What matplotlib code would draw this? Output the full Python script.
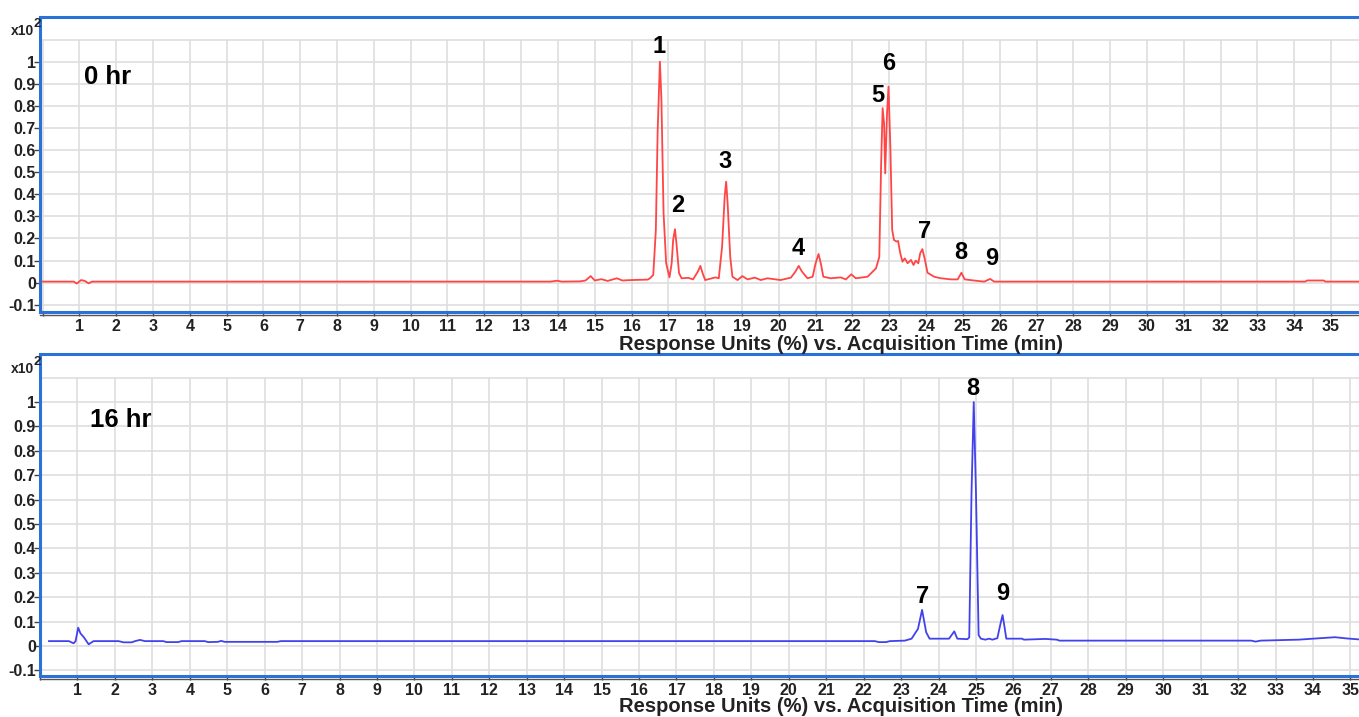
import matplotlib
matplotlib.use("Agg")
import matplotlib.pyplot as plt
from matplotlib.lines import Line2D
import numpy as np

plt.rcParams['font.family'] = ['Liberation Sans', 'DejaVu Sans']

# ---------------- data ----------------
t_0hr = [0.0, 0.85, 0.93, 1.05, 1.15, 1.25, 1.35, 13.8, 13.98, 14.1, 14.6, 14.75, 14.89, 15.0,
         15.18, 15.35, 15.6, 15.75, 16.0, 16.44, 16.5, 16.59, 16.66, 16.71, 16.77, 16.81, 16.87,
         16.94, 17.03, 17.09, 17.13, 17.18, 17.22, 17.29, 17.36, 17.54, 17.67, 17.8, 17.87,
         17.93, 18.0, 18.28, 18.37, 18.46, 18.53, 18.57, 18.61, 18.68, 18.74, 18.88, 19.01,
         19.15, 19.35, 19.51, 19.69, 20.05, 20.33, 20.45, 20.54, 20.63, 20.78, 20.92, 21.0,
         21.08, 21.14, 21.21, 21.41, 21.68, 21.82, 21.97, 22.09, 22.41, 22.64, 22.73, 22.78,
         22.82, 22.86, 22.89, 22.94, 22.98, 23.03, 23.08, 23.13, 23.2, 23.24, 23.3, 23.36,
         23.42, 23.5, 23.59, 23.66, 23.72, 23.79, 23.84, 23.9, 23.97, 24.04, 24.22, 24.4,
         24.68, 24.86, 24.96, 25.05, 25.4, 25.58, 25.74, 25.85, 34.3, 34.35, 34.8, 34.85, 35.8]
v_0hr = [0.005, 0.005, -0.004, 0.012, 0.008, -0.003, 0.005, 0.005, 0.009, 0.005, 0.006, 0.01,
         0.03, 0.01, 0.016, 0.008, 0.02, 0.01, 0.012, 0.014, 0.02, 0.035, 0.238, 0.69, 1.0, 0.84,
         0.314, 0.088, 0.024, 0.088, 0.193, 0.242, 0.178, 0.043, 0.02, 0.022, 0.015, 0.05, 0.076,
         0.043, 0.012, 0.024, 0.02, 0.163, 0.39, 0.457, 0.36, 0.118, 0.027, 0.012, 0.03,
         0.015, 0.023, 0.012, 0.02, 0.012, 0.023, 0.05, 0.076, 0.05, 0.02, 0.027, 0.088,
         0.13, 0.088, 0.027, 0.02, 0.024, 0.015, 0.038, 0.02, 0.027, 0.065, 0.117, 0.54,
         0.79, 0.72, 0.495, 0.767, 0.887, 0.615, 0.238, 0.193, 0.186, 0.189, 0.133, 0.095,
         0.11, 0.088, 0.103, 0.08, 0.1, 0.088, 0.133, 0.152, 0.103, 0.045, 0.027, 0.02,
         0.015, 0.015, 0.045, 0.015, 0.008, 0.005, 0.017, 0.005, 0.005, 0.01, 0.01, 0.005, 0.005]

t_16hr = [0.24, 0.77, 0.9, 0.95, 1.02, 1.08, 1.17, 1.3, 1.43, 2.1, 2.23, 2.45, 2.54, 2.67, 2.8,
          3.29, 3.38, 3.69, 3.78, 4.4, 4.49, 4.75, 4.84, 4.93, 6.34, 6.43, 22.3, 22.4, 22.6,
          22.7, 23.1, 23.28, 23.45, 23.56, 23.67, 23.76, 24.28, 24.42, 24.5, 24.77, 24.82,
          24.88, 24.94, 25.0, 25.07, 25.13, 25.25, 25.35, 25.44, 25.57, 25.66, 25.71, 25.76,
          25.81, 26.23, 26.28, 26.85, 27.16, 27.23, 32.35, 32.47, 32.6, 33.62, 34.0, 34.59,
          34.9, 35.23]
v_16hr = [0.02, 0.02, 0.011, 0.02, 0.075, 0.052, 0.036, 0.007, 0.02, 0.02, 0.015, 0.015,
          0.02, 0.025, 0.02, 0.02, 0.016, 0.016, 0.02, 0.02, 0.016, 0.017, 0.021, 0.017,
          0.017, 0.02, 0.02, 0.016, 0.016, 0.02, 0.022, 0.03, 0.07, 0.148, 0.056, 0.03,
          0.03, 0.06, 0.03, 0.028, 0.035, 0.625, 1.0, 0.625, 0.045, 0.03, 0.026, 0.03, 0.026,
          0.032, 0.095, 0.127, 0.08, 0.03, 0.03, 0.026, 0.029, 0.026, 0.022, 0.022, 0.018,
          0.022, 0.026, 0.03, 0.036, 0.031, 0.027]

peak_labels_0hr = ['1', '2', '3', '4', '5', '6', '7', '8', '9']
peak_lab_t_0hr = [16.76, 17.26, 18.55, 20.52, 22.69, 22.99, 23.95, 24.95, 25.77]
peak_lab_v_0hr = [1.071, 0.348, 0.548, 0.156, 0.845, 0.993, 0.231, 0.136, 0.11]

peak_labels_16hr = ['7', '8', '9']
peak_lab_t_16hr = [23.58, 24.92, 25.72]
peak_lab_v_16hr = [0.202, 1.056, 0.216]

yticks = [-0.1, 0, 0.1, 0.2, 0.3, 0.4, 0.5, 0.6, 0.7, 0.8, 0.9, 1.0]
ytick_labels = ['-0.1', '0', '0.1', '0.2', '0.3', '0.4', '0.5', '0.6', '0.7', '0.8', '0.9', '1']
xlabel = 'Response Units (%) vs. Acquisition Time (min)'

# ---------------- figure ----------------
W, H = 1359, 717
fig = plt.figure(figsize=(W / 100, H / 100), dpi=100)

BLUE = '#2a72d8'
GRID = '#dedede'
TXT = '#222222'


def fx(px):
    return px / W


def fy(py):
    return 1 - py / H


def make_axes(top, bottom, xlim, ylim, t, v, color, xmax_tick, panel_label, lab_t, lab_v,
              labs, label_pos, xlabel_y, x10_y):
    ax = fig.add_axes([fx(40), fy(bottom), 1 - fx(40), (bottom - top) / H])
    ax.set_xlim(*xlim)
    ax.set_ylim(*ylim)
    # grid
    for gy in np.arange(-1, 12) / 10:
        ax.axhline(gy, color=GRID, lw=1.2, zorder=0)
    ax.vlines(np.arange(0, 37), ylim[0], 1.1, color=GRID, lw=1.2, zorder=0)
    ax.plot(t, v, color=color, lw=1.3, zorder=3)
    for s in ['left', 'top', 'bottom']:
        ax.spines[s].set_color(BLUE)
        ax.spines[s].set_linewidth(2.2)
    ax.spines['right'].set_visible(False)
    ax.set_xticks(np.arange(0, xmax_tick + 1))
    ax.set_xticklabels([''] + [str(i) for i in range(1, xmax_tick + 1)])
    ax.set_yticks(yticks)
    ax.set_yticklabels(ytick_labels)
    ax.tick_params(axis='x', length=3, width=1, color='#444444', pad=2, labelsize=11.5,
                   labelcolor=TXT)
    ax.tick_params(axis='y', length=4, width=1, color='#444444', pad=-1, labelsize=11.5,
                   labelcolor=TXT)
    for lbl in ax.get_xticklabels() + ax.get_yticklabels():
        lbl.set_fontweight('bold')
    # dark line under bottom spine
    fig.add_artist(Line2D([fx(40), 1], [fy(bottom + 2.5), fy(bottom + 2.5)], color='#555555',
                          lw=1.0))
    ax.text(label_pos[0], label_pos[1], panel_label, fontsize=18.5, fontweight='bold',
            ha='left', va='center', color='black')
    for s_, tt, vv in zip(labs, lab_t, lab_v):
        ax.text(tt, vv, s_, fontsize=17, fontweight='bold', ha='center', va='center',
                color='black')
    fig.text(fx(841), fy(xlabel_y), xlabel, fontsize=14.5, fontweight='bold', ha='center',
             va='center', color=TXT)
    fig.text(fx(11), fy(x10_y), 'x10', fontsize=10, fontweight='bold', ha='left',
             va='center', color=TXT)
    fig.text(fx(33), fy(x10_y - 7), '2', fontsize=9.5, fontweight='bold', ha='left',
             va='center', color=TXT)
    return ax


make_axes(17, 312, (-0.068, 35.76), (-0.1326, 1.2023), t_0hr, v_0hr, '#ff4545', 35,
          '0 hr', peak_lab_t_0hr, peak_lab_v_0hr, peak_labels_0hr, (1.13, 0.93), 345, 31)
make_axes(354, 676, (0.241, 35.23), (-0.123, 1.197), t_16hr, v_16hr, '#4242ec', 35,
          '16 hr', peak_lab_t_16hr, peak_lab_v_16hr, peak_labels_16hr, (1.33, 0.926), 706, 369)

fig.savefig('out.png', dpi=100)
